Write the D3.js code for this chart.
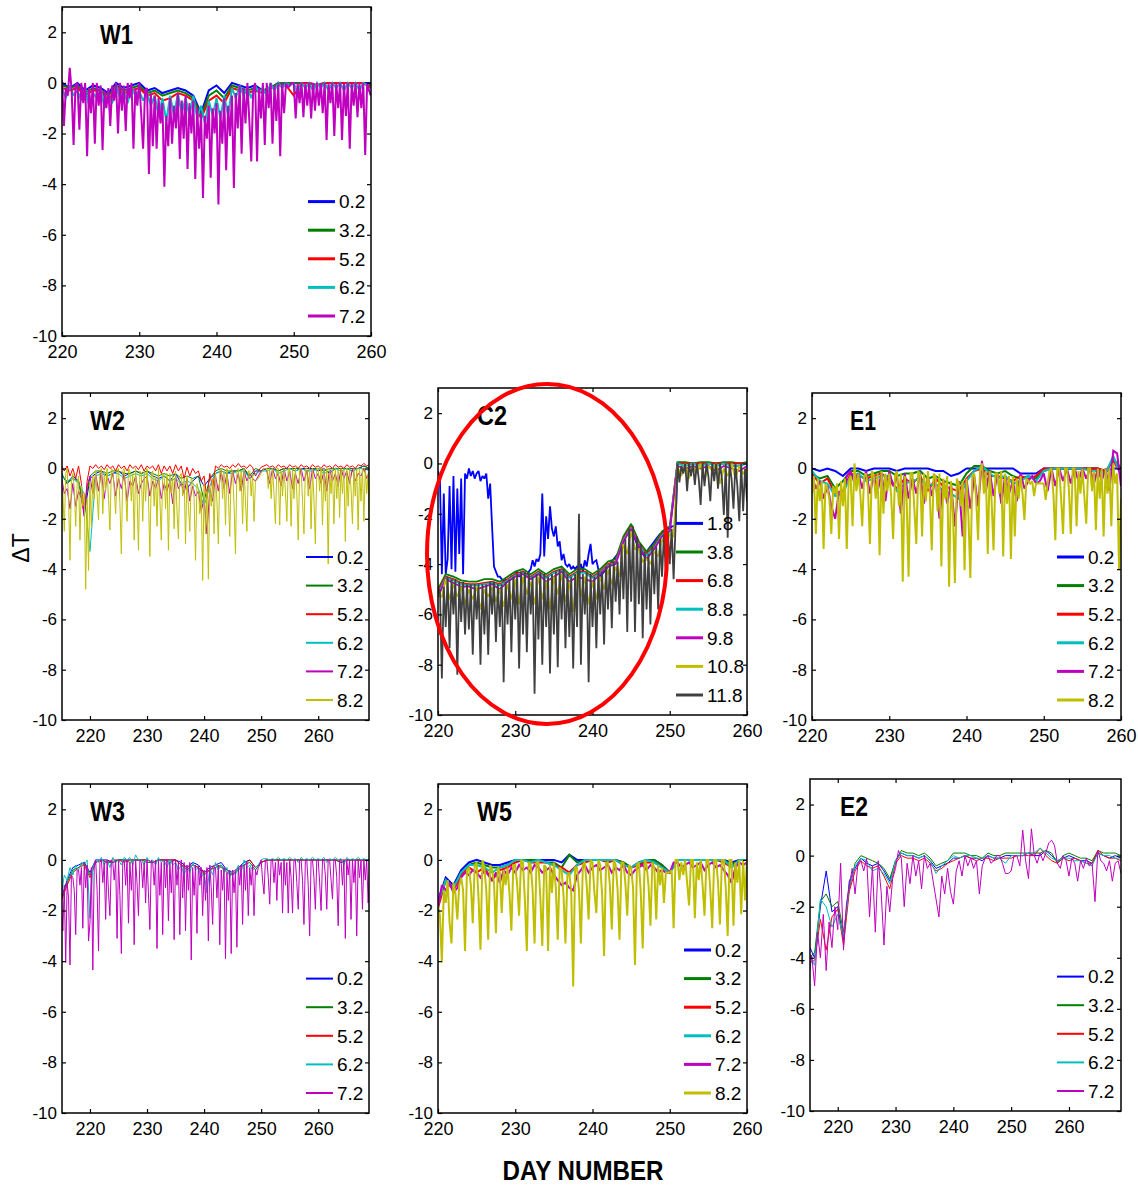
<!DOCTYPE html>
<html>
<head>
<meta charset="utf-8">
<script src="https://cdn.jsdelivr.net/npm/d3@7"></script>
<style>
body { margin: 0; background: #fff; }
svg text { font-family: "Liberation Sans", Arial, Helvetica, sans-serif; fill: #000; }
</style>
</head>
<body>
<svg id="chart" width="1138" height="1187"></svg>
<script>
// shared tick values
var yTicks = [2, 0, -2, -4, -6, -8, -10];
var xTicks = [220, 230, 240, 250, 260];

// ---------- W1 (day 220-260) ----------
var w1Labels = ['0.2', '3.2', '5.2', '6.2', '7.2'];
var w1_02 = [0, -0.2, 0, -0.3, -0.1, -0.2, -0.4, 0, -0.2, -0.1,
  0, -0.3, -0.2, -0.4, -0.3, -0.2, -0.3, -0.5, -1.2, -0.3,
  -0.1, -0.4, 0, -0.1, -0.2, -0.1, -0.3, -0.2, 0, -0.1,
  0, 0, 0, -0.1, 0, 0, 0, 0, 0, 0, 0];
var w1_32 = [-0.1, -0.2, -0.1, -0.4, -0.2, -0.3, -0.5, -0.1, -0.3, -0.2,
  -0.1, -0.4, -0.3, -0.5, -0.4, -0.3, -0.4, -0.6, -1.3, -0.5,
  -0.3, -0.6, -0.1, -0.2, -0.3, -0.2, -0.3, -0.2, 0, 0,
  0, 0, 0, -0.1, 0, 0, 0, 0, 0, 0, -0.1];
var w1_52 = [-0.2, -0.3, -0.2, -0.5, -0.3, -0.3, -0.7, -0.2, -0.4, -0.3,
  -0.2, -0.5, -0.4, -0.7, -0.6, -0.4, -0.5, -0.7, -1.4, -0.7,
  -0.5, -0.8, -0.2, -0.3, -0.4, -0.3, -0.4, -0.2, -0.1, -0.1,
  -0.5, 0, 0, -0.1, 0, 0, 0, 0, 0, 0, -0.2];
var w1_62 = [-0.2, -0.6, -0.1, -0.5, -0.3, -0.7, -0.2, -0.9, -0.4, -0.6,
  -0.2, -1.0, -0.5, -0.8, -0.1, -0.6, -0.3, -0.8, -0.2, -0.5,
  -0.3, -0.7, -0.4, -0.9, -0.5, -1.3, -0.6, -1.5, -0.5, -1.3,
  -0.4, -1.2, -0.6, -1.3, -0.5, -1.4, -0.9, -1.6, -0.7, -1.3,
  -0.6, -1.4, -0.5, -1.3, -0.2, -0.6, -0.1, -0.5, -0.2, -0.6,
  -0.1, -0.4, -0.2, -0.5, 0, -0.3, 0, -0.2, 0, -0.1,
  0, -0.4, 0, -0.2, 0, -0.3, 0, -0.2, 0, -0.3,
  0, -0.2, 0, -0.3, 0, -0.2, 0, -0.3, 0, -0.1, -0.5];
var w1_72 = [0.1, -1.7, -0.2, -0.5, 0.6, -0.3, -2.45, -0.1, 0, -1.85, 0, -0.8, 0, -2.9, -0.2, -1.2, 0, -2.4, 0, -0.9,
  -0.1, -2.65, -0.3, -1.0, -0.2, -1.7, -0.1, -0.7, 0, -2.0, 0, -1.1, -0.1, -1.9, 0, -0.6, 0, -2.6, -0.2, -0.9,
  0, -1.2, -2.6, -0.3, -0.2, -3.6, -0.4, -2.5, -0.5, -2.6, -0.6, -1.6, -0.8, -4.1, -1.3, -2.5, -0.6, -2.4, -0.9, -1.8,
  -0.4, -3.0, -0.7, -2.2, -0.5, -3.4, -0.8, -2.0, -0.7, -3.8, -1.0, -2.6, -1.2, -4.55, -1.3, -2.2, -0.9, -3.75, -1.0, -2.0,
  -0.8, -4.8, -1.1, -2.4, -0.6, -3.45, -0.9, -2.1, -0.5, -4.15, -0.4, -1.8, -0.1, -2.8, -0.2, -1.6, 0, -1.5, -3.1, -0.3,
  0, -3.1, -0.2, -1.4, 0, -2.45, 0, -1.0, 0, -2.4, -0.1, -1.5, 0, -2.9, 0, -1.2, 0, -0.2, -0.1, 0,
  0, -1.4, 0, -0.8, 0, -1.35, 0, -0.9, 0, -1.4, 0, -1.1, 0, -0.9, 0, -1.2, 0, -2.25, 0, -0.8,
  0, -2.1, 0, -1.0, 0, -2.25, 0, -1.3, 0, -2.6, 0, -0.9, 0, -1.35, 0, -1.0, 0, -2.85, 0, -0.3,
  -0.5];

// ---------- W2 (day 215-269) ----------
var w2Labels = ['0.2', '3.2', '5.2', '6.2', '7.2', '8.2'];
var w2_02 = [-0.2, -0.6, -0.3, -0.5, -1.8,
  -0.4, -0.2, -0.1, -0.3, -0.2, -0.1, -0.3, -0.2, -0.1, -0.2,
  -0.1, -0.3, -0.4, -0.3, -0.5, -0.2, -0.6, -0.8, -0.5, -0.3,
  -0.7, -0.4, -0.2, -0.1, -0.2, -0.1, -0.1, 0, -0.4, -0.1,
  -0.1, 0, 0, -0.1, 0, 0, -0.1, 0, 0, 0,
  -0.1, 0, -0.2, 0, 0, 0, -0.1, 0, 0.1, 0];
var w2_32 = [-0.2, -0.6, -0.4, -0.5, -1.5,
  -0.3, -0.1, -0.1, -0.2, -0.1, -0.1, -0.2, -0.2, -0.1, -0.2,
  -0.1, -0.2, -0.3, -0.2, -0.3, -0.2, -0.4, -0.3, -0.4, -0.3,
  -1.3, -0.4, -0.1, 0, -0.1, -0.1, -0.1, 0, -0.3, 0,
  -0.1, 0, 0, -0.1, 0, 0, 0, 0, -0.1, 0,
  0, -0.1, 0, 0, 0, 0, 0, 0, 0.1, 0];
var w2_52 = [0.1, -0.1, 0.1, -0.3, 0, -0.4, 0.1, -0.6, -1.9, -0.5,
  0.1, 0, 0.15, 0, 0.1, -0.05, 0.15, 0, 0.1, -0.1,
  0.15, 0, 0.1, -0.1, 0.15, 0, 0.1, -0.05, 0.15, -0.1,
  0.1, 0, 0.1, -0.1, 0.15, -0.2, 0.1, -0.1, 0.1, -0.2,
  0.15, -0.1, 0.1, -0.4, 0.05, -0.3, 0, -0.2, -0.1, -0.5,
  -0.3, -1.2, -0.2, -0.8, 0.1, 0, 0.15, 0.05, 0.1, 0,
  0.15, 0.05, 0.2, 0.05, 0.1, 0, 0.15, 0.05, -0.3, -0.1,
  0.05, 0.1, 0.15, 0.05, 0.1, 0, 0.15, 0.05, 0.1, 0,
  0.15, 0.05, 0.1, 0, 0.15, 0.05, 0.1, 0, 0.15, 0.05,
  0.1, 0, 0.15, 0.05, 0.1, 0, 0.15, 0.05, 0.1, 0,
  0.15, 0.05, 0.1, 0, 0.15, 0.1, 0.2, 0.1, 0.15];
var w2_62 = [-0.3, -0.5, -0.4, -0.6, -1.0,
  -3.3, -0.3, -0.2, -0.3, -0.2, -0.2, -0.4, -0.3, -0.2, -0.3,
  -0.2, -0.4, -0.5, -0.3, -0.5, -0.4, -0.6, -0.5, -0.6, -0.8,
  -1.5, -0.7, -0.2, -0.1, -0.2, -0.2, -0.1, -0.1, -0.4, -0.2,
  -0.1, -0.1, 0, -0.2, -0.1, 0, -0.1, 0, -0.1, -0.1,
  0, -0.2, -0.1, 0, -0.1, 0, -0.1, 0, 0, -0.1];
var w2_72 = [-0.3, -1.0, -0.8, -1.6, -0.6, -1.5, -0.9, -1.2, -1.9, -0.7,
  -0.3, -1.0, -0.2, -0.9, -0.1, -1.2, -0.3, -0.6, -0.2, -1.1,
  -0.4, -0.8, -0.2, -1.3, -0.5, -0.7, -0.3, -1.0, -0.6, -0.4,
  -0.3, -1.1, -0.5, -0.8, -0.4, -1.2, -0.6, -0.9, -0.5, -1.4,
  -0.3, -0.8, -0.6, -1.0, -0.4, -1.3, -0.7, -1.1, -0.9, -1.7,
  -1.2, -2.6, -0.8, -1.3, -0.3, -0.9, -0.1, -0.8, -0.2, -1.0,
  -0.1, -0.6, -0.2, -0.9, -0.1, -0.5, -0.2, -0.4, -0.5, -0.3,
  -0.1, 0, -0.1, -0.6, 0, -0.4, -0.2, -0.7, 0, -0.5,
  -0.1, -0.8, -0.2, -0.6, 0, -0.5, -0.1, -0.8, 0, -0.4,
  -0.2, -0.6, -0.1, -0.9, 0, -0.5, -0.2, -0.7, 0, -0.4,
  -0.1, -0.6, 0, -0.5, -0.2, -0.3, 0, -0.4, -0.1];
var w2_82 = [-0.3, -1.0, -2.5, -0.2, 0, -1.2, -3.65, -0.5, -0.2, -0.8, -2.3, -0.6, -0.3, -2.85, -0.7, -1.5, -1.0, -4.8, -1.2, -4.05,
  -0.5, -2.3, -0.3, -1.2, -0.1, -1.0, -2.05, -0.1, 0, -1.8, -0.1, -0.9, 0, -1.2, -2.45, 0, -0.1, -0.8, -1.8, -0.1,
  0, -1.4, -3.4, -0.1, 0, -0.9, -2.1, 0, -0.1, -1.3, -0.2, -2.85, 0, -1.0, -3.25, -0.1, -0.2, -2.1, -0.1, -1.3,
  0, -1.1, -3.5, -0.2, -0.1, -1.5, -0.3, -2.3, 0, -1.2, -2.85, -0.2, -0.3, -1.6, -0.2, -3.25, -0.2, -1.0, -0.3, -2.4,
  -0.1, -1.7, -2.8, -0.3, -0.2, -1.1, -0.4, -3.0, -0.3, -1.5, -2.5, -0.4, -0.5, -1.2, -3.65, -0.6, -0.8, -1.8, -0.9, -4.45,
  -0.6, -2.6, -0.9, -4.4, -0.7, -1.5, -0.4, -2.6, -0.2, -1.3, -3.0, -0.1, 0, -1.2, -0.1, -2.25, 0, -1.0, -2.7, 0,
  -0.1, -1.4, -3.4, -0.1, 0, -0.9, -0.1, -2.2, 0, -1.3, -2.5, -0.1, -0.1, -1.1, -0.2, -2.1, -0.5, -0.45, -0.4, -0.3,
  -0.2, -0.1, 0, 0, 0, -0.8, 0, -1.2, 0, -1.0, -2.2, 0, 0, -2.25, -0.1, -1.1, 0, -0.9, -2.1, 0,
  0, -2.3, 0, -1.2, 0, -1.0, -2.85, 0, 0, -1.3, -2.6, 0, 0, -1.1, 0, -2.4, 0, -1.2, -3.0, 0,
  0, -0.9, 0, -2.25, 0, -1.3, 0, -3.8, 0, -1.0, 0, -2.2, 0, -1.2, 0, -1.95, 0, -1.0, 0, -2.9,
  0, -1.5, 0, -0.8, -2.2, 0, -1.1, 0, -2.45, 0, -1.3, 0, -2.1, 0, -1.0, -0.2, -3.1];

// ---------- C2 (day 220-260) ----------
var c2Labels = ['1.8', '3.8', '6.8', '8.8', '9.8', '10.8', '11.8'];
var c2_18 = [-0.3, -0.6, -4.4, -1.2, -4.4, -3.8, -0.9, -4.2, -0.5, -4.3, -1.0, -3.6, -0.6, -4.4, -0.4, -0.6, -0.2, -0.5, -0.3, -0.6,
  -0.4, -0.3, -0.7, -0.5, -0.6, -0.4, -1.4, -0.8, -2.5, -4.1, -4.3, -4.5, -4.5, -4.6, -4.7, -4.6, -4.7, -4.6, -4.5, -4.6,
  -4.4, -4.3, -4.5, -4.4, -4.3, -4.4, -4.5, -4.3, -4.2, -3.85, -4.1, -3.8, -3.9, -3.6, -1.2, -3.7, -2.1, -3.0, -1.7, -2.6,
  -2.9, -2.5, -3.3, -3.1, -3.85, -3.6, -4.0, -4.1, -4.0, -4.2, -4.1, -4.2, -4.1, -4.2, -4.0, -4.3, -3.85, -4.1, -3.6, -3.2,
  -4.0, -3.9, -3.85, -4.2, -4.5, -4.4, -4.3, -4.2, -4.1, -4.0, -3.9, -3.8, -3.7, -3.6, -3.5, -3.4, -3.1, -2.9, -2.7, -2.6,
  -2.6, -2.9, -3.0, -3.2, -3.4, -3.5, -3.6, -3.7, -3.6, -3.4, -3.3, -3.2, -3.1, -3.0, -2.9, -2.8, -2.8, -2.7, -2.7, -2.6,
  -2.6, -2.5, -2.5, -2.4, 0, 0, 0, 0, 0, 0, 0, 0, 0, 0, 0, 0, 0, 0, 0, 0,
  0, 0, 0, 0, 0, 0, 0, 0, 0, 0, 0, 0, 0, 0, 0, 0, 0, 0, 0, 0, 0];
var c2_38 = [-5.0, -4.4, -4.5, -4.65, -4.7, -4.7, -4.6, -4.6, -4.7, -4.5,
  -4.3, -4.2, -4.4, -4.2, -4.4, -4.2, -4.1, -4.4, -4.2, -4.2,
  -4.4, -4.2, -3.9, -3.8, -2.9, -2.4, -3.1, -3.5, -3.2, -2.7,
  -2.5, 0.05, 0.05, 0, 0.05, 0.05, 0, 0.05, 0.05, 0, 0.05];
var c2_68 = [-5.1, -4.5, -4.6, -4.75, -4.8, -4.8, -4.75, -4.7, -4.8, -4.6,
  -4.4, -4.3, -4.5, -4.3, -4.5, -4.3, -4.2, -4.5, -4.3, -4.3,
  -4.5, -4.3, -4.0, -3.9, -3.0, -2.5, -3.2, -3.6, -3.3, -2.8,
  -2.6, 0, 0, 0, 0, 0, 0, 0, 0, 0, 0];
var c2_88 = [-5.2, -4.55, -4.65, -4.8, -4.85, -4.85, -4.8, -4.75, -4.85, -4.65,
  -4.45, -4.35, -4.55, -4.35, -4.55, -4.35, -4.25, -4.55, -4.35, -4.35,
  -4.55, -4.35, -4.05, -3.95, -3.05, -2.55, -3.25, -3.65, -3.35, -2.85,
  -2.65, 0, -0.1, 0, -0.1, 0, -0.1, 0, -0.1, -0.1, 0];
var c2_98 = [-5.3, -4.6, -4.75, -4.9, -4.9, -5.0, -4.9, -4.8, -5.0, -4.7,
  -4.5, -4.4, -4.6, -4.4, -4.7, -4.5, -4.3, -4.7, -4.5, -4.6,
  -4.7, -4.4, -4.1, -4.0, -3.1, -2.6, -3.3, -3.8, -3.4, -2.9,
  -2.7, -0.1, -0.2, -0.1, -0.2, -0.1, -0.3, -0.1, -0.2, -0.3, -0.1];
var c2_108 = [-5.2, -5.3, -4.6, -5.4, -4.8, -5.3, -4.9, -5.6, -5.0, -5.4,
  -4.9, -5.8, -5.0, -5.3, -4.9, -5.5, -5.0, -5.7, -4.8, -5.4,
  -4.6, -5.6, -4.5, -5.2, -4.7, -5.6, -4.5, -5.4, -4.7, -5.8,
  -4.5, -5.2, -4.4, -5.5, -4.7, -5.9, -4.4, -5.3, -4.5, -5.6,
  -4.7, -5.4, -4.5, -5.0, -4.2, -4.8, -4.1, -4.5, -3.2, -3.6,
  -2.7, -3.4, -3.4, -3.9, -3.8, -4.0, -3.5, -3.7, -3.0, -3.3,
  -2.8, -2.9, -0.1, -0.5, 0, -0.6, -0.1, -0.4, 0, -0.7,
  -0.1, -0.3, 0, -0.8, -0.2, -0.5, 0, -0.6, -0.1, -0.4, -0.2];
var c2_118 = [-5.2, -5.0, -8.55, -4.9, -6.5, -4.5, -7.35, -4.6, -6.0, -4.6, -8.4, -4.7, -6.3, -4.7, -6.8, -4.8, -6.6, -4.8, -7.6, -4.8,
  -6.2, -4.8, -8.0, -4.8, -6.8, -4.8, -7.6, -4.7, -6.0, -4.7, -7.1, -4.8, -6.5, -4.8, -8.7, -4.7, -6.4, -4.6, -7.5, -4.5,
  -6.2, -4.4, -8.15, -4.3, -6.8, -4.3, -7.5, -4.4, -6.0, -4.5, -9.15, -4.4, -7.0, -4.3, -8.0, -4.4, -6.5, -4.5, -8.35, -4.4,
  -6.8, -4.3, -8.1, -4.2, -6.2, -4.2, -7.35, -4.4, -6.9, -4.5, -8.15, -4.4, -6.5, -2.0, -8.0, -4.4, -6.0, -4.3, -8.7, -4.4,
  -6.5, -4.5, -7.35, -4.3, -6.0, -4.3, -7.2, -4.1, -5.8, -4.0, -6.55, -3.9, -5.5, -3.9, -6.0, -3.3, -5.4, -3.0, -6.7, -2.6,
  -5.5, -2.5, -6.7, -2.9, -5.6, -3.2, -6.95, -3.5, -5.8, -3.6, -6.4, -3.3, -5.2, -3.3, -5.8, -3.0, -4.5, -2.8, -4.45, -2.7,
  -4.0, -2.6, -4.6, -2.5, 0, -0.75, -0.1, -0.4, 0, -1.1, 0, -0.5, 0, -0.85, 0, -0.6, -1.65, 0, -0.9, 0,
  -0.5, -1.5, 0, -0.7, 0, -1.0, 0, -0.6, -2.05, 0, -2.95, 0, -0.6, -1.8, 0, -0.9, -2.3, 0, -1.9, -0.2,
  -1.5];

// ---------- E1 (day 220-260) ----------
var e1Labels = ['0.2', '3.2', '5.2', '6.2', '7.2', '8.2'];
var e1_02 = [0, -0.1, 0, -0.1, -0.3, 0, 0, -0.1, 0, 0,
  0, -0.1, 0, 0, 0, 0, -0.1, -0.1, -0.3, -0.2,
  0, 0, 0, 0, 0, 0, 0, -0.2, -0.2, -0.2,
  0, 0, 0, 0, 0, 0, 0, 0, -0.1, 0, 0];
var e1_32 = [-0.2, -0.4, -0.3, -0.8, -0.5, -0.1, -0.1, -0.3, -0.2, -0.1,
  -0.1, -0.3, -0.2, -0.2, -0.1, -0.4, -0.3, -0.5, -0.6, -0.7,
  -0.2, 0.1, 0.1, -0.1, -0.2, -0.1, -0.3, -0.4, -0.3, -0.4,
  -0.1, 0, 0, 0, 0, 0, 0, 0, -0.2, 0.4, 0];
var e1_52 = [-0.2, -0.6, -0.4, -1.0, -0.9, -0.2, -0.3, -0.4, -0.3, -0.2,
  -0.5, -0.8, -0.4, -0.6, -0.3, -0.9, -0.4, -0.7, -0.8, -0.9,
  -0.4, -0.1, 0, -0.3, -0.3, -0.4, -0.5, -0.3, -0.4, -0.3,
  0, 0, 0, 0, 0, 0, 0, 0, -0.1, 0.3, -0.2];
var e1_62 = [-0.1, -0.5, -0.6, -1.1, -1.0, -0.3, -0.2, -0.5, -0.4, -0.3,
  -0.3, -0.9, -0.6, -0.5, -0.4, -0.7, -0.6, -0.9, -1.0, -1.2,
  -0.5, -0.1, 0.1, -0.2, -0.4, -0.3, -0.6, -0.5, -0.3, -0.5,
  -0.1, 0, 0, 0, 0, 0, -0.1, -0.1, -0.2, 0.5, -0.3];
var e1_72 = [-0.3, -0.8, -0.5, -1.2, -0.7, -1.5, -2.0, -0.9, -1.2, -0.3,
  -0.1, -0.6, -0.2, -0.8, -0.1, -1.0, -0.3, -0.9, -0.2, -1.3,
  -0.1, -0.7, -0.3, -1.8, -0.2, -1.2, -0.4, -1.0, -0.2, -1.4,
  -0.3, -1.1, -0.4, -2.0, -0.5, -1.4, -0.6, -2.3, -0.5, -2.7,
  -0.4, -1.6, -0.3, -1.5, 0.3, -0.9, -0.1, -1.1, -0.2, -1.4,
  -0.3, -1.0, -0.5, -1.3, -0.2, -0.8, -0.5, -0.3, -0.6, -0.5,
  -0.2, -0.9, 0, -0.7, 0, -0.5, 0, -0.6, 0, -0.5,
  0, -0.4, 0, -0.6, 0, -0.5, 0, -0.9, 0.7, 0.6, -0.7];
var e1_82 = [-1.0, -0.3, -2.6, -0.4, -1.3, -0.5, -3.2, -0.6, -0.8, -1.2, -2.6, -0.7, -1.0, -0.6, -2.8, -0.5, -1.5, -0.4, -3.2, -0.5,
  -0.3, -2.3, 0.2, -0.9, -0.2, -1.0, -2.3, -0.3, -0.2, -0.8, -3.0, -0.1, -0.3, -1.2, -0.2, -3.45, -0.1, -1.8, -0.2, -0.9,
  -0.2, -1.1, -2.8, -0.3, -0.1, -1.5, -0.2, -4.5, -0.3, -1.2, -4.3, -0.2, -0.2, -1.6, -3.0, -0.1, -0.3, -2.7, -0.2, -1.3,
  -0.1, -1.0, -3.25, -0.2, -0.3, -1.7, -0.2, -3.9, -0.4, -1.2, -0.3, -4.7, -0.5, -1.8, -4.55, -0.4, -0.6, -1.5, -0.5, -4.05,
  -0.4, -1.9, -4.35, -0.3, -0.2, -1.2, -2.85, -0.1, 0.2, -1.0, -0.1, -3.4, -0.1, -1.3, -3.25, -0.2, -0.2, -1.0, -0.1, -3.5,
  -0.2, -1.4, -0.3, -3.6, -0.3, -2.7, -0.4, -1.2, -0.3, -1.0, -2.05, -0.4, -0.5, -0.6, -0.5, -1.1, -0.6, -0.6, -0.6, -0.6,
  -0.6, -1.25, -0.6, -0.1, 0, -1.0, -2.85, 0, 0, -1.2, -2.6, 0, 0, -0.8, -2.6, 0, 0, -2.3, -0.1, -1.0,
  0, -1.1, -2.2, 0, 0, -0.9, -0.1, -2.45, 0, -1.2, 0, -2.7, 0, -1.0, 0, -2.3, 0.2, -0.6, -0.2, -4.05,
  -1.2];

// ---------- W3 (day 215-269) ----------
var w3Labels = ['0.2', '3.2', '5.2', '6.2', '7.2'];
var w3_02 = [-1.5, -0.8, -0.3, -0.2, -0.1,
  -0.5, 0, 0, 0, -0.1, 0, 0, 0, 0, 0,
  0, -0.1, 0, 0, 0, 0, -0.1, -0.3, -0.1, -0.2,
  -0.5, -0.3, -0.2, -0.1, -0.4, -0.5, -0.3, -0.1, 0, -0.3,
  -0.1, 0, 0, 0, 0, 0, 0, 0, 0, 0,
  0, 0, 0, 0, -0.1, 0, 0, 0, 0, 0];
var w3_32 = [-1.6, -0.9, -0.4, -0.3, -0.1,
  -0.6, -0.1, 0, -0.1, -0.1, 0, 0, -0.1, 0, 0,
  -0.1, -0.1, 0, 0, -0.1, 0, -0.2, -0.4, -0.2, -0.3,
  -0.6, -0.4, -0.3, -0.2, -0.5, -0.6, -0.4, -0.2, -0.1, -0.4,
  -0.1, 0, 0, 0, 0, 0, 0, 0, 0, 0,
  0, 0, 0, 0, -0.1, 0, 0, 0, 0, 0];
var w3_52 = [-1.6, -1.0, -0.5, -0.3, -0.2,
  -0.7, -0.1, 0, -0.1, 0, 0, -0.1, 0, 0, 0,
  0, -0.1, 0, 0, 0, 0, -0.2, -0.3, -0.2, -0.3,
  -0.5, -0.4, -0.2, -0.3, -0.4, -0.6, -0.3, -0.2, 0, -0.3,
  -0.1, 0, 0, 0, 0, 0, 0, 0, 0, 0,
  0, 0, 0, 0, 0, 0, 0, 0, 0, 0];
var w3_62 = [-1.4, -0.6, -0.8, -0.3, -0.6, -0.2, -0.4, -0.1, -0.2, 0,
  -2.3, -0.3, 0, -0.1, 0.1, -0.2, 0, -0.3, 0.1, -0.1,
  0, -0.2, 0.1, 0, 0.1, -0.2, 0.2, 0, 0, -0.2,
  0.1, -0.1, 0, -0.2, 0.1, -0.1, 0, -0.3, 0, -0.2,
  -0.1, -0.4, -0.2, -0.6, -0.3, -0.5, -0.1, -0.4, -0.3, -0.7,
  -0.5, -1.3, -0.3, -0.6, -0.1, -0.4, -0.2, -0.5, -0.3, -0.7,
  -0.4, -0.6, -0.2, -0.5, 0, -0.3, -0.2, -0.4, -0.3, -0.2,
  0, 0.05, 0.05, 0, 0.05, 0, 0.1, 0, 0.05, 0,
  0.1, 0, 0.05, -0.1, 0.1, 0, 0.05, 0, 0.1, 0,
  0.05, 0, 0.1, -0.1, 0.05, 0, 0.1, 0, 0.05, -0.2,
  0.1, 0, 0.05, 0, 0.1, 0, 0.05, 0, 0.05];
var w3_72 = [-1.8, -2.8, -1.0, -4.05, -0.9, -1.5, -4.15, -0.6, -0.7, -1.2, -2.95, -0.4, -0.4, -1.0, -0.3, -2.7, -0.1, -1.1, -0.2, -3.2,
  -2.5, -0.3, -4.35, -0.2, 0, -1.2, -3.6, -0.1, 0, -0.9, -0.1, -2.35, 0, -1.3, -2.2, 0, -0.1, -0.8, 0, -3.1,
  0, -1.4, -3.7, -0.1, 0, -1.0, 0, -2.5, -0.1, -1.2, -0.1, -3.35, 0, -0.9, -2.2, 0, -0.1, -1.1, -0.1, -1.7,
  0, -1.3, -2.75, 0, -0.1, -1.0, 0, -3.5, 0, -1.4, -0.1, -2.95, 0, -1.1, 0, -2.4, -0.1, -1.3, 0, -3.15,
  0, -1.0, -0.1, -2.95, 0, -1.5, -0.1, -2.8, -0.2, -1.2, -0.1, -3.95, -0.3, -1.4, -0.2, -2.9, -0.2, -1.0, -0.3, -2.2,
  -0.4, -1.6, -0.3, -3.2, -0.2, -1.1, -2.55, -0.3, -0.3, -1.5, -0.2, -3.35, -0.4, -1.2, -0.3, -3.9, -0.5, -1.6, -0.4, -3.7,
  -0.4, -1.3, -0.5, -3.45, -0.3, -1.0, -0.2, -2.55, -0.2, -1.2, -0.1, -2.2, -0.3, -1.0, -0.2, -2.2, -0.4, -0.6, -0.3, -0.2,
  0, -0.8, -1.35, 0, 0, -0.7, -1.75, 0, 0, -0.9, -0.1, -1.6, 0, -0.6, -0.1, -2.1, 0, -1.0, -0.1, -2.1,
  0, -0.7, -2.1, 0, 0, -0.9, -1.95, 0, 0, -0.8, -2.55, 0, 0, -1.0, -3.0, 0, 0, -0.7, -1.95, 0,
  0, -0.9, -2.0, 0, 0, -0.6, -1.95, 0, 0, -0.8, -1.55, 0, 0, -0.7, -2.6, 0, 0, -1.0, 0, -3.1,
  0, -0.6, 0, -2.35, 0, -0.9, 0, -3.0, 0, -0.7, 0, -1.95, 0, -0.8, 0, -1.7, -0.3];

// ---------- W5 (day 220-260) ----------
var w5Labels = ['0.2', '3.2', '5.2', '6.2', '7.2', '8.2'];
var w5_02 = [-1.6, -0.7, -1.0, -0.4, -0.1, 0, -0.1, -0.2, -0.2, -0.1,
  0, 0, 0, 0, 0, 0, -0.1, 0.2, 0, 0,
  0, 0, 0, 0, -0.1, -0.3, -0.1, 0, 0, -0.2,
  -0.5, 0, 0, 0, 0, 0, 0, 0, -0.1, 0, 0];
var w5_32 = [-1.7, -0.8, -1.1, -0.5, -0.2, -0.1, -0.2, -0.3, -0.3, -0.2,
  0, 0, 0, 0, -0.1, -0.1, -0.3, 0.2, -0.1, 0,
  0, 0, 0, 0, -0.1, -0.3, -0.2, 0, 0, -0.2,
  -0.5, 0, 0, 0, 0, 0, 0, 0, -0.2, 0, 0];
var w5_52 = [-1.9, -0.8, -1.2, -0.6, -0.3, -0.5, -0.3, -0.8, -0.4, -0.3,
  -0.1, 0, -0.1, -0.1, -0.1, -0.2, -0.3, -0.5, -0.2, -0.1,
  0, 0, -0.1, 0, -0.2, -0.3, -0.2, -0.1, -0.1, -0.3,
  -0.5, 0, 0, 0, 0, 0, 0, -0.1, -0.3, 0, 0];
var w5_62 = [-1.7, -0.8, -1.1, -0.5, -0.2, -0.2, -0.3, -0.5, -0.3, -0.2,
  0, 0, -0.1, 0, -0.1, -0.2, -0.4, -0.6, -0.2, 0,
  0, 0, 0, 0, -0.2, -0.3, -0.1, 0, -0.1, -0.3,
  -0.5, 0, 0, 0, 0, 0, 0, 0, -0.3, 0, 0];
var w5_72 = [-1.9, -1.0, -1.2, -0.9, -1.3, -1.1, -0.7, -0.5, -0.6, -0.4,
  -0.5, -0.7, -0.4, -0.6, -0.8, -0.5, -0.9, -0.4, -0.6, -0.3,
  -0.5, -0.2, -0.4, -0.3, -0.5, -0.2, -0.3, -0.5, -0.4, -0.3,
  -0.6, -0.8, -1.0, -0.9, -1.1, -1.2, -0.6, -0.4, -0.2, -0.5,
  -0.3, -0.2, -0.4, -0.3, -0.2, -0.5, -0.3, -0.4, -0.2, -0.5,
  -0.6, -0.4, -0.3, -0.2, -0.4, -0.2, -0.3, -0.5, -0.4, -0.5,
  -0.5, -0.1, -0.1, -0.3, -0.2, -0.1, -0.3, -0.2, -0.1, -0.4,
  -0.2, -0.1, -0.3, -0.2, -0.4, -0.6, -0.9, -0.3, -0.1, -0.2, -0.1];
var w5_82 = [-1.8, -2.2, -4.05, -1.2, -1.7, -0.8, -2.5, -3.3, -0.9, -1.3, -2.35, -1.0, -0.7, -1.2, -3.6, -0.4, -0.3, -1.0, -2.5, -0.2,
  -0.1, -1.5, -3.55, 0, -0.3, -1.2, -3.15, -0.2, -0.4, -0.9, -2.9, -0.3, -0.5, -2.1, -0.4, -1.0, -0.3, -1.3, -2.8, -0.2,
  -0.2, -1.0, -2.2, 0, -0.1, -1.6, -3.6, -0.1, -0.2, -1.2, -3.3, -0.1, -0.1, -1.5, -3.4, -0.2, -0.3, -3.6, -0.2, -1.3,
  -0.1, -1.1, -3.15, -0.3, -0.4, -1.4, -3.3, -0.6, -0.5, -1.3, -5.0, -0.3, -0.3, -1.2, -3.3, -0.2, -0.1, -1.0, -2.35, 0,
  -0.1, -1.3, -2.1, 0, -0.2, -1.4, -3.8, -0.1, -0.1, -1.0, -2.75, 0, -0.2, -1.2, -3.15, -0.1, -0.1, -0.9, -2.2, -0.2,
  -0.3, -1.1, -4.15, -0.2, -0.1, -1.3, -3.5, 0, -0.2, -1.0, -2.6, -0.1, -0.3, -2.35, -0.2, -1.0, -0.3, -1.7, -0.5, -0.5,
  -0.5, -0.4, -2.7, 0, 0, -0.8, -0.1, -0.6, 0, -0.9, -1.8, 0, 0, -2.3, -0.1, -0.8, 0, -1.0, -2.2, 0,
  0, -1.2, -2.7, 0, 0, -0.9, -2.55, 0, 0, -1.1, -3.0, 0, 0, -2.6, -0.1, -0.9, 0, -2.15, 0, -1.6,
  0];

// ---------- E2 (day 215-269) ----------
var e2Labels = ['0.2', '3.2', '5.2', '6.2', '7.2'];
var e2_02 = [-3.5, -4.0, -2.0, -0.6, -2.2,
  -2.0, -3.3, -1.0, -0.5, -0.1, -0.3, -0.4, -0.3, -0.6, -1.0,
  -0.2, 0.1, 0, 0, -0.1, 0, -0.2, -0.5, -0.4, -0.3,
  -0.1, -0.1, 0, -0.1, -0.1, -0.2, 0, -0.1, -0.1, 0,
  0, 0, 0, 0.1, 0, 0, 0.2, 0, -0.2, -0.1,
  0, -0.1, -0.2, -0.2, -0.3, 0.1, 0, -0.1, 0, -0.1];
var e2_32 = [-4.0, -3.8, -1.8, -1.5, -2.0,
  -1.8, -3.0, -1.3, -0.3, 0, -0.1, -0.2, -0.3, -0.5, -0.9,
  -0.2, 0.2, 0.1, 0.1, 0, 0.1, -0.1, -0.4, -0.3, -0.2,
  0.1, 0.1, 0.1, 0, 0, -0.1, 0.1, 0, 0, 0.1,
  0.1, 0.1, 0.1, 0.1, 0.1, 0.1, 0.2, 0.1, -0.3, 0,
  0.1, 0, -0.1, -0.1, -0.2, 0.2, 0.1, 0.1, 0.1, 0];
var e2_52 = [-4.2, -4.1, -2.5, -3.7, -2.4,
  -2.1, -3.5, -1.4, -0.6, -0.2, -0.4, -0.5, -0.4, -0.8, -1.3,
  -0.3, 0, -0.1, -0.1, -0.2, -0.1, -0.3, -0.6, -0.5, -0.3,
  -0.2, -0.1, 0, -0.1, -0.2, -0.1, -0.1, -0.2, -0.1, -0.1,
  -0.1, 0, 0, 0, 0, 0.3, 0, -0.2, -0.3, -0.1,
  -0.2, -0.1, -0.2, -0.3, -0.3, 0.2, 0, -0.1, -0.1, -0.2];
var e2_62 = [-3.8, -4.3, -1.7, -2.0, -2.8,
  -2.3, -3.2, -1.2, -0.4, -0.1, -0.2, -0.6, -0.5, -0.7, -1.1,
  -0.2, 0.1, 0, 0, -0.1, 0, -0.2, -0.7, -0.4, -0.2,
  0, -0.1, 0, 0, -0.1, -0.1, 0, -0.1, -0.1, -0.3,
  0, 0, 0, 0.1, 0.1, 0.3, 0.1, -0.1, -0.2, -0.1,
  -0.1, -0.2, -0.2, -0.3, -0.4, 0.1, 0, 0, -0.1, -0.1];
var e2_72 = [-4.8, -3.9, -5.1, -3.0, -4.0, -2.3, -4.5, -2.6, -3.6, -2.0,
  -2.9, -0.3, -3.7, -1.9, -1.2, -0.5, -1.5, -0.3, -0.2, -0.6,
  -0.1, -2.4, -0.4, -3.0, -0.2, -1.4, -3.5, -1.2, -2.2, -0.9,
  -0.5, 0.2, -0.1, -2.0, -0.3, -1.1, 0, -0.8, -0.2, -1.3,
  0, -0.5, -0.3, -1.0, -1.7, -2.4, -0.8, -1.5, -0.5, -1.4,
  -1.9, -0.6, -0.2, -0.8, 0, -0.4, -0.1, -0.5, -0.2, -1.5,
  -0.4, -0.1, 0, -0.3, -0.2, 0, 0, -0.3, -0.7, -0.7,
  -0.6, 0, 0, -0.4, 1.0, -0.2, -0.9, 1.05, 0, -0.3,
  0.1, -0.2, 0.1, 0.5, 0.6, 0.4, -0.3, -0.5, 0, -0.2,
  -0.8, -0.1, -0.3, -1.0, -0.2, -0.5, -0.1, -0.4, -0.3, -1.8,
  0.2, -0.2, -0.3, -0.6, -0.2, -1.0, -0.3, -0.2, -0.7];

// MATLAB default line colours, in legend order
var lineColors = ['#0000ff', '#008000', '#ff0000', '#00bfbf', '#bf00bf', '#bfbf00', '#404040'];

// Panel layout: pixel box, x domain, and which arrays go in it (t0 = first day, dt = sample step)
var panels = [
  { name: 'W1', left: 62, right: 371, top: 7, bottom: 336, xDomain: [220, 260], lw: 2, legLw: 3, legDx: 63, titleDx: 38, titleW: 33,
    labels: w1Labels,
    series: [{ vals: w1_02, t0: 220, dt: 1 }, { vals: w1_32, t0: 220, dt: 1 }, { vals: w1_52, t0: 220, dt: 1 },
      { vals: w1_62, t0: 220, dt: 0.5 }, { vals: w1_72, t0: 220, dt: 0.25 }] },
  { name: 'W2', left: 62, right: 369, top: 393, bottom: 720, xDomain: [215.1, 268.9], lw: 1, legLw: 2, legDx: 63, titleDx: 28, titleW: 35,
    labels: w2Labels,
    series: [{ vals: w2_02, t0: 215, dt: 1 }, { vals: w2_32, t0: 215, dt: 1 }, { vals: w2_52, t0: 215, dt: 0.5 },
      { vals: w2_62, t0: 215, dt: 1 }, { vals: w2_72, t0: 215, dt: 0.5 }, { vals: w2_82, t0: 215, dt: 0.25 }] },
  { name: 'C2', left: 438, right: 747, top: 388, bottom: 715, xDomain: [220, 260], lw: 1.8, legLw: 3, legDx: 71, titleDx: 39, titleW: 30,
    labels: c2Labels,
    series: [{ vals: c2_18, t0: 220, dt: 0.25 }, { vals: c2_38, t0: 220, dt: 1 }, { vals: c2_68, t0: 220, dt: 1 },
      { vals: c2_88, t0: 220, dt: 1 }, { vals: c2_98, t0: 220, dt: 1 }, { vals: c2_108, t0: 220, dt: 0.5 },
      { vals: c2_118, t0: 220, dt: 0.25 }] },
  { name: 'E1', left: 812, right: 1121, top: 393, bottom: 720, xDomain: [220, 260], lw: 2, legLw: 3, legDx: 64, titleDx: 38, titleW: 26,
    labels: e1Labels,
    series: [{ vals: e1_02, t0: 220, dt: 1 }, { vals: e1_32, t0: 220, dt: 1 }, { vals: e1_52, t0: 220, dt: 1 },
      { vals: e1_62, t0: 220, dt: 1 }, { vals: e1_72, t0: 220, dt: 0.5 }, { vals: e1_82, t0: 220, dt: 0.25 }] },
  { name: 'W3', left: 62, right: 369, top: 784, bottom: 1113, xDomain: [215.1, 268.9], lw: 1, legLw: 2, legDx: 63, titleDx: 28, titleW: 35,
    labels: w3Labels,
    series: [{ vals: w3_02, t0: 215, dt: 1 }, { vals: w3_32, t0: 215, dt: 1 }, { vals: w3_52, t0: 215, dt: 1 },
      { vals: w3_62, t0: 215, dt: 0.5 }, { vals: w3_72, t0: 215, dt: 0.25 }] },
  { name: 'W5', left: 438, right: 747, top: 784, bottom: 1113, xDomain: [220, 260], lw: 2, legLw: 3, legDx: 63, titleDx: 39, titleW: 35,
    labels: w5Labels,
    series: [{ vals: w5_02, t0: 220, dt: 1 }, { vals: w5_32, t0: 220, dt: 1 }, { vals: w5_52, t0: 220, dt: 1 },
      { vals: w5_62, t0: 220, dt: 1 }, { vals: w5_72, t0: 220, dt: 0.5 }, { vals: w5_82, t0: 220, dt: 0.25 }] },
  { name: 'E2', left: 810, right: 1121, top: 779, bottom: 1111, xDomain: [215.2, 269], lw: 1, legLw: 2, legDx: 64, titleDx: 30, titleW: 28,
    labels: e2Labels,
    series: [{ vals: e2_02, t0: 215, dt: 1 }, { vals: e2_32, t0: 215, dt: 1 }, { vals: e2_52, t0: 215, dt: 1 },
      { vals: e2_62, t0: 215, dt: 1 }, { vals: e2_72, t0: 215, dt: 0.5 }] }
];

var svg = d3.select('#chart');
svg.append('rect').attr('width', 1138).attr('height', 1187).attr('fill', '#fff');
var defs = svg.append('defs');

var plainFmt = function(d) { return String(d); };

panels.forEach(function(p) {
  var x = d3.scaleLinear().domain(p.xDomain).range([p.left, p.right]);
  var y = d3.scaleLinear().domain([-10, 3]).range([p.bottom, p.top]);

  defs.append('clipPath').attr('id', 'clip-' + p.name)
    .append('rect')
    .attr('x', p.left).attr('y', p.top)
    .attr('width', p.right - p.left).attr('height', p.bottom - p.top);

  var line = d3.line()
    .x(function(d) { return x(d[0]); })
    .y(function(d) { return y(d[1]); });

  var plot = svg.append('g').attr('clip-path', 'url(#clip-' + p.name + ')');
  p.series.forEach(function(s, i) {
    var pts = s.vals.map(function(v, k) { return [s.t0 + k * s.dt, v]; });
    plot.append('path')
      .datum(pts)
      .attr('d', line)
      .attr('fill', 'none')
      .attr('stroke', lineColors[i])
      .attr('stroke-width', p.lw)
      .attr('stroke-linejoin', 'miter')
      .attr('stroke-miterlimit', 2);
  });

  // inward ticks on all four sides, like matlab
  svg.append('g')
    .attr('transform', 'translate(' + p.left + ',0)')
    .call(d3.axisLeft(y).tickValues(yTicks).tickSize(-4).tickPadding(5).tickFormat(plainFmt))
    .call(function(g) { g.select('.domain').remove(); })
    .call(function(g) {
      g.selectAll('text').style('font-size', '17px').attr('font-family', null);
      g.selectAll('line').attr('stroke', '#000').attr('stroke-width', 1.2);
    });
  svg.append('g')
    .attr('transform', 'translate(' + p.right + ',0)')
    .call(d3.axisRight(y).tickValues(yTicks).tickSize(-4).tickFormat(''))
    .call(function(g) { g.select('.domain').remove(); g.selectAll('line').attr('stroke-width', 1.2); });
  svg.append('g')
    .attr('transform', 'translate(0,' + p.bottom + ')')
    .call(d3.axisBottom(x).tickValues(xTicks).tickSize(-4).tickPadding(9).tickFormat(plainFmt))
    .call(function(g) { g.select('.domain').remove(); })
    .call(function(g) {
      g.selectAll('text').style('font-size', '18px').attr('font-family', null);
      g.selectAll('line').attr('stroke-width', 1.2);
    });
  svg.append('g')
    .attr('transform', 'translate(0,' + p.top + ')')
    .call(d3.axisTop(x).tickValues(xTicks).tickSize(-4).tickFormat(''))
    .call(function(g) { g.select('.domain').remove(); g.selectAll('line').attr('stroke-width', 1.2); });

  // axes box
  svg.append('rect')
    .attr('x', p.left).attr('y', p.top)
    .attr('width', p.right - p.left).attr('height', p.bottom - p.top)
    .attr('fill', 'none')
    .attr('stroke', '#000')
    .attr('stroke-width', 1.5);

  // panel name
  svg.append('text')
    .attr('x', p.left + p.titleDx)
    .attr('y', p.top + 37)
    .attr('textLength', p.titleW)
    .attr('lengthAdjust', 'spacingAndGlyphs')
    .style('font-size', '27px')
    .style('font-weight', 'bold')
    .text(p.name);

  // red circle that marks C2
  if (p.name === 'C2') {
    svg.append('ellipse')
      .attr('cx', 547).attr('cy', 554)
      .attr('rx', 120).attr('ry', 170)
      .attr('fill', 'none')
      .attr('stroke', '#ff0000')
      .attr('stroke-width', 4);
  }

  // legend, no box
  var n = p.labels.length;
  var legX = p.right - p.legDx;
  var leg = svg.append('g').attr('class', 'legend');
  p.labels.forEach(function(lab, i) {
    var ly = p.bottom - 20 - (n - 1 - i) * 28.6;
    leg.append('line')
      .attr('x1', legX).attr('x2', legX + 27)
      .attr('y1', ly).attr('y2', ly)
      .attr('stroke', lineColors[i])
      .attr('stroke-width', p.legLw);
    leg.append('text')
      .attr('x', legX + 31)
      .attr('y', ly)
      .attr('dy', '0.36em')
      .style('font-size', '19px')
      .text(lab);
  });
});

// shared axis titles
svg.append('text')
  .attr('transform', 'translate(29,548) rotate(-90)')
  .attr('text-anchor', 'middle')
  .style('font-size', '23px')
  .text('\u0394T');

svg.append('text')
  .attr('x', 583)
  .attr('y', 1180)
  .attr('text-anchor', 'middle')
  .attr('textLength', 161)
  .attr('lengthAdjust', 'spacingAndGlyphs')
  .style('font-size', '27px')
  .style('font-weight', 'bold')
  .text('DAY NUMBER');
</script>
</body>
</html>
